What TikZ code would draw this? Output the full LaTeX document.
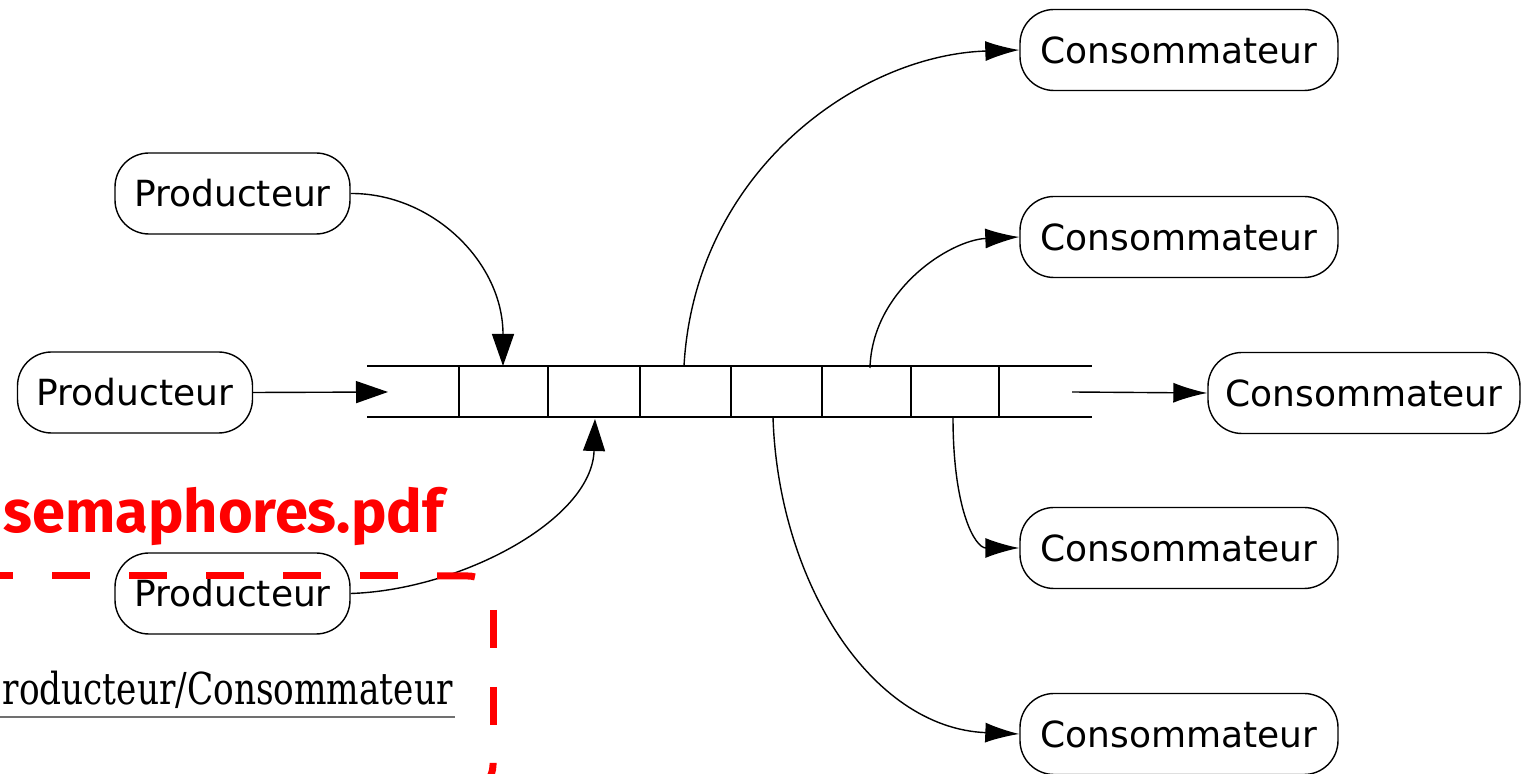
\documentclass[tikz,border=0pt]{standalone}
\usepackage{fontspec}
\usepackage{graphicx}
\setmainfont{DejaVu Sans}
\newfontfamily\labelfont{Fira Sans Bold}
\newfontfamily\captionfont{DejaVu Serif}
\usetikzlibrary{arrows.meta}
\definecolor{overlayred}{RGB}{255,0,0}
\definecolor{rulegray}{RGB}{112,112,112}
\tikzset{
  box/.style={draw, line width=0.7pt, rounded corners=17pt, minimum height=40.5pt,
              inner xsep=0pt, font=\fontsize{18}{20}\selectfont},
  prodbox/.style={box, minimum width=117.5pt},
  consbox/.style={box, minimum width=159pt},
  cell/.style={line width=0.9pt},
  inarrow/.style={line width=0.7pt, -{Triangle[length=16pt,width=11pt]}},
  outarrow/.style={line width=0.7pt, -{Latex[length=17pt,width=10pt]}},
  marker/.style={draw=overlayred, line width=3.5pt, line cap=butt},
}
\begin{document}
\begin{tikzpicture}[x=0.5pt, y=-0.5pt]
  \useasboundingbox (0,0) rectangle (1528,774);
  \clip (0,0) rectangle (1528,774);

  % producers
  \node[prodbox] (p1) at (232.5,193.5) {Producteur};
  \node[prodbox] (p2) at (135,392.5) {Producteur};
  \node[prodbox] (p3) at (232.5,593.5) {Producteur};

  % consumers
  \node[consbox] (c1) at (1179,50) {Consommateur};
  \node[consbox] (c2) at (1179,237) {Consommateur};
  \node[consbox, minimum width=156pt] (c3) at (1364,393) {Consommateur};
  \node[consbox] (c4) at (1179,548) {Consommateur};
  \node[consbox] (c5) at (1179,734) {Consommateur};

  % the shared buffer: two rails and seven separators
  \draw[cell] (367,366) -- (1092,366);
  \draw[cell] (367,417) -- (1092,417);
  \foreach \x in {459,548,640,731,822,911,999}
    \draw[cell] (\x,366) -- (\x,417);

  % attachment points on the buffer
  \coordinate (inleft) at (388,392);
  \coordinate (intop) at (503,366);
  \coordinate (inbottom) at (595,419);
  \coordinate (outa) at (684,366);
  \coordinate (outb) at (870,368);
  \coordinate (outc) at (1072,392);
  \coordinate (outd) at (953,417);
  \coordinate (oute) at (773,417);

  % producers feed the buffer
  \draw[inarrow] (p2.east) -- (inleft);
  \draw[inarrow] (p1.east) .. controls (432,193) and (503,262) .. (intop);
  \draw[inarrow] (p3.east) .. controls (460,590) and (592,520) .. (inbottom);

  % consumers take from the buffer
  \draw[outarrow] (outa) .. controls (695,170) and (860,55) .. (c1.west);
  \draw[outarrow] (outb) .. controls (872,290) and (950,240) .. (c2.west);
  \draw[outarrow] (outc) -- (c3.west);
  \draw[outarrow] (outd) .. controls (953,510) and (975,548) .. (c4.west);
  \draw[outarrow] (oute) .. controls (778,580) and (870,728) .. (c5.west);

  % annotation layer
  \node[anchor=base west, inner sep=0pt, text=overlayred,
        font=\labelfont\fontsize{29.8}{33}\selectfont] (tag) at (3,533) {semaphores.pdf};
  \node[anchor=base east, inner sep=0pt,
        font=\captionfont\fontsize{22}{24}\selectfont] (cap) at (453,705)
        {\scalebox{0.78}[1]{roducteur/Consommateur}};
  \draw[rulegray, line width=1.25pt] (0,717) -- (455,717);

  % dashed frame with rounded corners, one dash at a time
  \foreach \x in {-25,52,129,206,283,360}
    \draw[marker] (\x,576) -- ++(38,0);
  \draw[marker] (437,576) -- (468,576) arc[start angle=-90, end angle=-74, radius=25];
  \draw[marker] (493,610) -- (493,648);
  \draw[marker] (493,687) -- (493,725);
  \draw[marker] (493,763) -- (493,765) arc[start angle=0, end angle=80, radius=25];
\end{tikzpicture}
\end{document}
